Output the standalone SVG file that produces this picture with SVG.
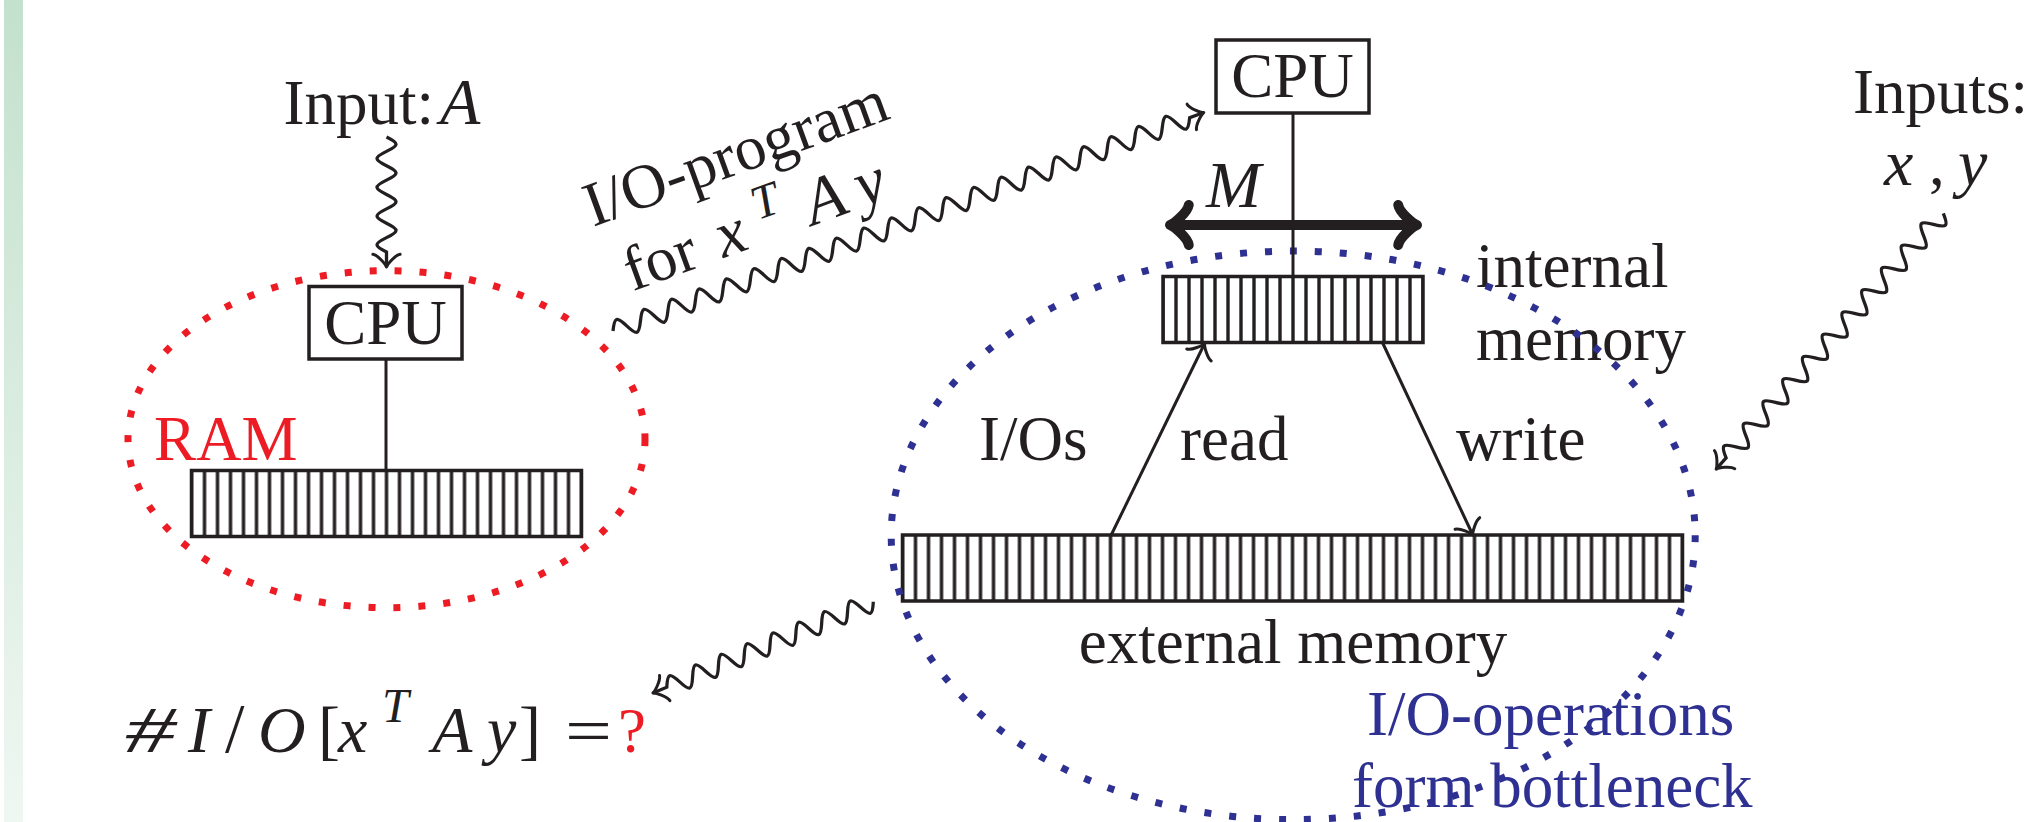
<svg xmlns="http://www.w3.org/2000/svg" width="2033" height="822" viewBox="0 0 2033 822">
<style>
.t{font-family:"Liberation Serif","Times New Roman",serif;font-size:63px;fill:#231f20}
.m{font-style:italic;font-size:66px}
.red{fill:#ed1c24}
.blue{fill:#2e3192}
.box{fill:#fff;stroke:#231f20;stroke-width:3.5}
.arr{fill:url(#cells);stroke:#231f20;stroke-width:3.5}
.ln{fill:none;stroke:#231f20;stroke-width:3}
.snake{fill:none;stroke:#231f20;stroke-width:3.3;marker-end:url(#tip)}
.dotred{fill:none;stroke:#ed1c24;stroke-width:7;stroke-dasharray:7 18}
.dotblue{fill:none;stroke:#2e3192;stroke-width:7;stroke-dasharray:7 18}
</style>
<defs>
<linearGradient id="barGrad" x1="0" y1="0" x2="0" y2="1">
<stop offset="0" stop-color="#c3e1cd"/>
<stop offset="1" stop-color="#eff7f2"/>
</linearGradient>
<pattern id="cells" patternUnits="userSpaceOnUse" width="13" height="200">
<rect x="0" y="0" width="1.7" height="200" fill="#231f20"/>
<rect x="11.3" y="0" width="1.7" height="200" fill="#231f20"/>
</pattern>
<marker id="tip" markerUnits="userSpaceOnUse" orient="auto-start-reverse" overflow="visible" markerWidth="1" markerHeight="1" refX="0" refY="0">
<path d="M-12.75,13.6 C-11.9,8.5 -2.55,0.85 0,0 C-2.55,-0.85 -11.9,-8.5 -12.75,-13.6" fill="none" stroke="#231f20" stroke-width="3" stroke-linecap="round" stroke-linejoin="round"/>
</marker>
<marker id="tipBig" markerUnits="userSpaceOnUse" orient="auto-start-reverse" overflow="visible" markerWidth="1" markerHeight="1" refX="0" refY="0">
<path d="M-18.75,20 C-17.5,12.5 -3.75,1.25 0,0 C-3.75,-1.25 -17.5,-12.5 -18.75,-20" fill="none" stroke="#231f20" stroke-width="10" stroke-linecap="round" stroke-linejoin="round"/>
</marker>
</defs>
<rect width="2033" height="822" fill="#fff"/>
<rect id="side-bar" x="4" y="0" width="19" height="822" fill="url(#barGrad)"/>

<g id="input-a">
<text class="t" x="283.5" y="124">Input:<tspan class="m" x="440">A</tspan></text>
</g>

<g id="cpu-left">
<rect class="box" x="309" y="286.5" width="153" height="72.5"/>
<text class="t" x="385.5" y="343.5" text-anchor="middle">CPU</text>
</g>

<g id="ram-memory" transform="translate(191.5,470.5)">
<rect class="arr" width="390" height="66"/>
</g>
<g id="ram-label"><text class="t red" x="154" y="460">RAM</text></g>

<g id="io-program-label" transform="translate(593,227) rotate(-20)">
<text class="t" x="0" y="0">I/O-program</text>
<text class="t" y="74"><tspan x="15">for</tspan><tspan class="m" x="112">x</tspan><tspan class="m" x="157" y="50" style="font-size:48px">T</tspan><tspan class="m" x="207" y="74">A</tspan><tspan class="m" x="260">y</tspan></text>
</g>

<g id="cpu-right">
<rect class="box" x="1216" y="40" width="153" height="73"/>
<text class="t" x="1292.5" y="97" text-anchor="middle">CPU</text>
</g>

<g id="memory-size">
<text class="t m" x="1206" y="207">M</text>
<line x1="1170" y1="225" x2="1417" y2="225" stroke="#231f20" stroke-width="10" marker-start="url(#tipBig)" marker-end="url(#tipBig)"/>
</g>

<g id="internal-memory" transform="translate(1163,276.5)">
<rect class="arr" width="260" height="66"/>
</g>
<g id="internal-label">
<text class="t" x="1476" y="287">internal</text>
<text class="t" x="1476" y="360">memory</text>
</g>

<g id="io-labels">
<text class="t" x="979" y="460">I/Os</text>
<text class="t" x="1180" y="460">read</text>
<text class="t" x="1456" y="460">write</text>
</g>

<g id="external-memory" transform="translate(902.5,535)">
<rect class="arr" width="780" height="66"/>
</g>
<g id="external-label"><text class="t" x="1293" y="663" text-anchor="middle">external memory</text></g>

<g id="inputs-xy">
<text class="t" x="1853" y="113">Inputs:</text>
<text class="t" y="185"><tspan class="m" x="1884">x</tspan><tspan x="1929">,</tspan><tspan class="m" x="1958">y</tspan></text>
</g>

<g id="bottleneck-label">
<text class="t blue" x="1367" y="735">I/O-operations</text>
<text class="t blue" x="1352" y="807">form bottleneck</text>
</g>

<g id="formula">
<text class="t" x="125" y="752" style="font-style:italic;font-size:66px" textLength="51" lengthAdjust="spacingAndGlyphs">#</text>
<text class="t" y="752"><tspan class="m" x="188">I</tspan><tspan x="225" style="font-size:70px">/</tspan><tspan class="m" x="258">O</tspan><tspan x="318" style="font-size:66px">[</tspan><tspan class="m" x="338">x</tspan></text>
<text class="t m" x="382" y="722" style="font-size:48px">T</text>
<text class="t" y="752"><tspan class="m" x="432">A</tspan><tspan class="m" x="487">y</tspan><tspan x="519" style="font-size:66px">]</tspan></text>
<text class="t" x="565" y="752" textLength="47" lengthAdjust="spacingAndGlyphs">=</text>
<text class="t red" x="618" y="752">?</text>
</g>

<g id="ellipses">
<ellipse id="ram-ellipse" class="dotred" cx="386.5" cy="439.2" rx="258.5" ry="168.5"/>
<ellipse id="io-ellipse" class="dotblue" cx="1293.2" cy="535.3" rx="402" ry="284.3"/>
</g>

<g id="connectors">
<line class="ln" x1="386" y1="359" x2="386" y2="470.5"/>
<line class="ln" x1="1293" y1="113" x2="1293" y2="276.5"/>
<line class="ln" x1="1111.2" y1="535" x2="1204.6" y2="343.5" marker-end="url(#tip)"/>
<line class="ln" x1="1382.7" y1="343" x2="1472.8" y2="535" marker-end="url(#tip)"/>
<g transform="translate(386.5,137) rotate(90)">
<path class="snake" d="M0,0 c6.1,-12.7 8.275,-12.7 14.375,0 s8.275,12.7 14.375,0 s8.275,-12.7 14.375,0 s8.275,12.7 14.375,0 s8.275,-12.7 14.375,0 s8.275,12.7 14.375,0 s8.275,-12.7 14.375,0 s8.275,12.7 14.375,0 l15,0"/>
</g>
<g transform="translate(613,331) rotate(-20.3)">
<path class="snake" d="M0,0 c6.21,-12.7 8.43,-12.7 14.64,0 s8.43,12.7 14.64,0 s8.43,-12.7 14.64,0 s8.43,12.7 14.64,0 s8.43,-12.7 14.64,0 s8.43,12.7 14.64,0 s8.43,-12.7 14.64,0 s8.43,12.7 14.64,0 s8.43,-12.7 14.64,0 s8.43,12.7 14.64,0 s8.43,-12.7 14.64,0 s8.43,12.7 14.64,0 s8.43,-12.7 14.64,0 s8.43,12.7 14.64,0 s8.43,-12.7 14.64,0 s8.43,12.7 14.64,0 s8.43,-12.7 14.64,0 s8.43,12.7 14.64,0 s8.43,-12.7 14.64,0 s8.43,12.7 14.64,0 s8.43,-12.7 14.64,0 s8.43,12.7 14.64,0 s8.43,-12.7 14.64,0 s8.43,12.7 14.64,0 s8.43,-12.7 14.64,0 s8.43,12.7 14.64,0 s8.43,-12.7 14.64,0 s8.43,12.7 14.64,0 s8.43,-12.7 14.64,0 s8.43,12.7 14.64,0 s8.43,-12.7 14.64,0 s8.43,12.7 14.64,0 s8.43,-12.7 14.64,0 s8.43,12.7 14.64,0 s8.43,-12.7 14.64,0 s8.43,12.7 14.64,0 s8.43,-12.7 14.64,0 s8.43,12.7 14.64,0 s8.43,-12.7 14.64,0 s8.43,12.7 14.64,0 s8.43,-12.7 14.64,0 s8.43,12.7 14.64,0 l15,0"/>
</g>
<g transform="translate(1943.3,213.3) rotate(131.6)">
<path class="snake" d="M0,0 c6.31,-12.7 8.56,-12.7 14.87,0 s8.56,12.7 14.87,0 s8.56,-12.7 14.87,0 s8.56,12.7 14.87,0 s8.56,-12.7 14.87,0 s8.56,12.7 14.87,0 s8.56,-12.7 14.87,0 s8.56,12.7 14.87,0 s8.56,-12.7 14.87,0 s8.56,12.7 14.87,0 s8.56,-12.7 14.87,0 s8.56,12.7 14.87,0 s8.56,-12.7 14.87,0 s8.56,12.7 14.87,0 s8.56,-12.7 14.87,0 s8.56,12.7 14.87,0 s8.56,-12.7 14.87,0 s8.56,12.7 14.87,0 s8.56,-12.7 14.87,0 s8.56,12.7 14.87,0 s8.56,-12.7 14.87,0 s8.56,12.7 14.87,0 l15,0"/>
</g>
<g transform="translate(873.3,601.7) rotate(157.5)">
<path class="snake" d="M0,0 c5.93,-12.7 8.04,-12.7 13.97,0 s8.04,12.7 13.97,0 s8.04,-12.7 13.97,0 s8.04,12.7 13.97,0 s8.04,-12.7 13.97,0 s8.04,12.7 13.97,0 s8.04,-12.7 13.97,0 s8.04,12.7 13.97,0 s8.04,-12.7 13.97,0 s8.04,12.7 13.97,0 s8.04,-12.7 13.97,0 s8.04,12.7 13.97,0 s8.04,-12.7 13.97,0 s8.04,12.7 13.97,0 s8.04,-12.7 13.97,0 s8.04,12.7 13.97,0 l15,0"/>
</g>
</g>
</svg>
